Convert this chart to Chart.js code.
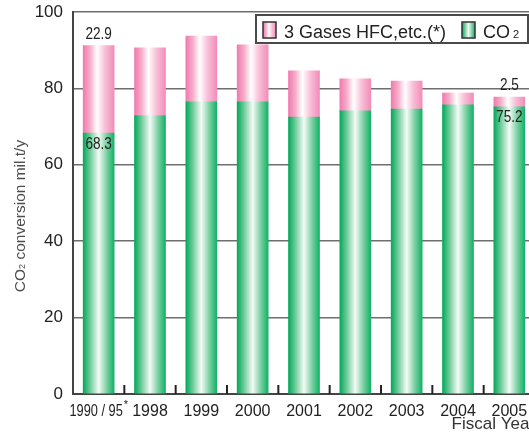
<!DOCTYPE html>
<html>
<head>
<meta charset="utf-8">
<script src="https://cdn.jsdelivr.net/npm/chart.js@4.4.1/dist/chart.umd.min.js"></script>
<style>
  html, body { margin: 0; padding: 0; background: #fff; overflow: hidden; }
  #wrap { width: 529px; height: 435px; overflow: hidden; }
</style>
</head>
<body>
<div id="wrap"><canvas id="chart" width="545" height="435"></canvas></div>
<script>
/*----- data -----*/
const categories = ['1990 / 95*', '1998', '1999', '2000', '2001', '2002', '2003', '2004', '2005']
const co2Values = [68.3, 72.9, 76.5, 76.5, 72.5, 74.1, 74.6, 75.7, 75.2]
const gasValues = [22.9, 17.7, 17.2, 14.9, 12.1, 8.4, 7.3, 3.1, 2.5]
const labelledBars = [0, 8]
const yTicks = [0, 20, 40, 60, 80, 100]

/*----- styles -----*/
const pinkStops = [[0, '#f17aae'], [0.22, '#f6acca'], [0.45, '#ffffff'], [0.7, '#f8c0d8'], [1, '#f38cb9']]
const greenStops = [[0, '#05a85c'], [0.22, '#6dcb98'], [0.5, '#f4fbf7'], [0.75, '#7fd1a5'], [1, '#12b266']]
const FONT = '"Liberation Sans", Arial, sans-serif'

function makeGradient(ctx, x0, x1, stops) {
    const g = ctx.createLinearGradient(x0, 0, x1, 0)
    stops.forEach(s => g.addColorStop(s[0], s[1]))
    return g
}

function barFill(stops) {
    return function (context) {
        if (context.type !== 'data') return stops[0][1]
        const xs = context.chart.scales.x
        if (!xs) return stops[0][1]
        const c = xs.getPixelForValue(context.dataIndex)
        if (!isFinite(c)) return stops[0][1]
        return makeGradient(context.chart.ctx, c - 15.5, c + 15.5, stops)
    }
}

// draw text squeezed horizontally (the original uses a condensed face)
function narrowText(ctx, text, x, y, squeeze) {
    ctx.save()
    ctx.translate(x, y)
    ctx.scale(squeeze, 1)
    ctx.fillText(text, 0, 0)
    ctx.restore()
}

/*----- plugins -----*/
const extras = {
    id: 'extras',
    afterDatasetsDraw(chart) {
        const ctx = chart.ctx
        const xs = chart.scales.x
        const area = chart.chartArea
        // small upward ticks between categories
        ctx.save()
        ctx.strokeStyle = '#222'
        ctx.lineWidth = 2
        for (let i = 0; i < categories.length - 1; i++) {
            const x = (xs.getPixelForValue(i) + xs.getPixelForValue(i + 1)) / 2
            ctx.beginPath()
            ctx.moveTo(x, area.bottom)
            ctx.lineTo(x, area.bottom - 9)
            ctx.stroke()
        }
        ctx.restore()

        // first category label, condensed, with raised asterisk
        ctx.save()
        ctx.fillStyle = '#222'
        ctx.textBaseline = 'alphabetic'
        ctx.font = '16px ' + FONT
        const main = categories[0].replace('*', '')
        const mainW = ctx.measureText(main).width * 0.8
        const cx = xs.getPixelForValue(0)
        const left = cx - (mainW + 5) / 2
        ctx.textAlign = 'left'
        narrowText(ctx, main, left, area.bottom + 22, 0.8)
        ctx.font = '11px ' + FONT
        ctx.fillText('*', left + mainW + 1, area.bottom + 14)
        ctx.restore()

        // value labels on first and last bar
        const co2Meta = chart.getDatasetMeta(0)
        const gasMeta = chart.getDatasetMeta(1)
        ctx.save()
        ctx.fillStyle = '#222'
        ctx.textAlign = 'center'
        ctx.font = '17px ' + FONT
        labelledBars.forEach(i => {
            const top = gasMeta.data[i]
            const mid = co2Meta.data[i]
            ctx.textBaseline = 'bottom'
            narrowText(ctx, gasValues[i].toFixed(1), top.x, top.y - 3, 0.8)
            ctx.textBaseline = 'middle'
            narrowText(ctx, co2Values[i].toFixed(1), mid.x, mid.y + 11, 0.8)
        })
        ctx.restore()
    },
    afterDraw(chart) {
        const ctx = chart.ctx
        // y axis title
        ctx.save()
        ctx.translate(25, 216)
        ctx.rotate(-Math.PI / 2)
        ctx.fillStyle = '#4d4d4d'
        ctx.textBaseline = 'alphabetic'
        const parts = [['CO', '15.5px '], ['2', '9px '], [' conversion mil.t/y', '15.5px ']]
        let w = 0
        parts.forEach(p => { ctx.font = p[1] + FONT; w += ctx.measureText(p[0]).width })
        let x = -w / 2
        parts.forEach(p => {
            ctx.font = p[1] + FONT
            ctx.fillText(p[0], x, 0)
            x += ctx.measureText(p[0]).width
        })
        ctx.restore()

        // legend
        ctx.save()
        ctx.fillStyle = '#fff'
        ctx.fillRect(256, 15, 272, 28)
        ctx.strokeStyle = '#4a4a4a'
        ctx.lineWidth = 2
        ctx.strokeRect(256, 15, 272, 28)
        const items = [
            { x: 263, stops: pinkStops, label: chart.data.datasets[1].label },
            { x: 462, stops: greenStops, label: 'CO' }
        ]
        items.forEach(it => {
            ctx.fillStyle = makeGradient(ctx, it.x, it.x + 13, it.stops)
            ctx.fillRect(it.x, 22, 13, 16)
            ctx.strokeStyle = '#333'
            ctx.lineWidth = 1.5
            ctx.strokeRect(it.x, 22, 13, 16)
            ctx.fillStyle = '#222'
            ctx.font = '18px ' + FONT
            ctx.textBaseline = 'alphabetic'
            ctx.fillText(it.label, it.x + 21, 38)
        })
        ctx.font = '18px ' + FONT
        const coW = ctx.measureText('CO').width
        ctx.font = '11px ' + FONT
        ctx.fillText('2', 462 + 21 + coW + 3, 38)
        ctx.restore()
    }
}

/*----- chart -----*/
new Chart(document.getElementById('chart'), {
    type: 'bar',
    data: {
        labels: categories,
        datasets: [
            {
                label: 'CO2',
                data: co2Values,
                backgroundColor: barFill(greenStops),
                borderWidth: 0,
                barThickness: 31
            },
            {
                label: '3 Gases HFC,etc.(*)',
                data: gasValues,
                backgroundColor: barFill(pinkStops),
                borderWidth: 0,
                barThickness: 31
            }
        ]
    },
    options: {
        responsive: false,
        animation: false,
        layout: { padding: { left: 0, right: 10, top: 12, bottom: 0 } },
        plugins: {
            legend: { display: false },
            tooltip: { enabled: false }
        },
        scales: {
            x: {
                stacked: true,
                grid: { display: false, drawTicks: false },
                border: { display: true, color: '#444', width: 2 },
                ticks: {
                    autoSkip: false,
                    maxRotation: 0,
                    padding: 8,
                    color: '#222',
                    font: { family: FONT, size: 16 },
                    callback: (v, i) => i === 0 ? '' : categories[i]
                },
                title: {
                    display: true,
                    text: 'Fiscal Year',
                    align: 'end',
                    color: '#333',
                    font: { family: FONT, size: 17 },
                    padding: { top: 0, bottom: 0 }
                },
                afterFit: (scale) => { scale.height = 41 }
            },
            y: {
                stacked: true,
                min: 0,
                max: 100,
                afterBuildTicks: (scale) => { scale.ticks = yTicks.map(v => ({ value: v })) },
                grid: { color: '#6e6e6e', lineWidth: 1.5, drawTicks: false },
                border: { display: true, color: '#444', width: 2 },
                ticks: {
                    padding: 10,
                    color: '#222',
                    font: { family: FONT, size: 17 }
                },
                afterFit: (scale) => {
                    scale.width = 73
                    scale.paddingTop = 0
                    scale.paddingBottom = 0
                }
            }
        }
    },
    plugins: [extras]
});
</script>
</body>
</html>
